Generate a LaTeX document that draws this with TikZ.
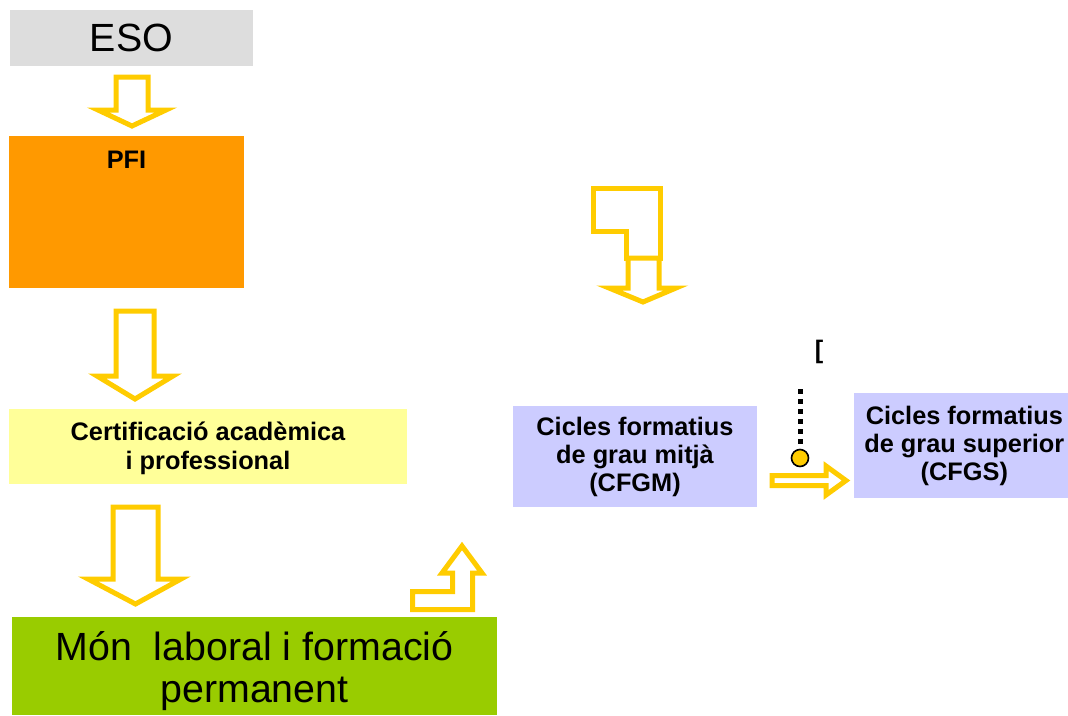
\documentclass[tikz,border=0pt]{standalone}
\usepackage{fontspec}
\setmainfont{Liberation Sans}
\definecolor{esogray}{HTML}{DDDDDD}
\definecolor{pfiorange}{HTML}{FF9900}
\definecolor{certyellow}{HTML}{FFFF99}
\definecolor{mongreen}{HTML}{99CC00}
\definecolor{cflav}{HTML}{CCCCFF}
\definecolor{arrowyellow}{HTML}{FFCC00}
\begin{document}
\begin{tikzpicture}[x=0.75pt,y=-0.75pt,
  box/.style={anchor=north west, inner sep=0pt, outer sep=0pt, align=center, text=black},
  bigtext/.style={font=\fontsize{29.5}{31.5}\selectfont},
  boldtext/.style={font=\fontsize{19}{21}\selectfont\bfseries},
  blockarrow/.style={draw=arrowyellow, line width=3.75pt, line join=miter, fill=white},
  dotline/.style={draw=black, line width=3.75pt, dash pattern=on 3.75pt off 3.75pt}]
\useasboundingbox (0,0) rectangle (1068,715);
\fill[white] (0,0) rectangle (1068,715);

% boxes
\node[box, fill=esogray, minimum width={243*0.75pt}, minimum height={56*0.75pt}, bigtext] (eso) at (10,10) {ESO};
\node[box, fill=pfiorange, minimum width={235*0.75pt}, minimum height={152*0.75pt},
  label={[anchor=north, inner sep=0pt, boldtext, yshift={-15*0.75pt}]north:PFI}] (pfi) at (9,136) {};
\node[box, fill=certyellow, minimum width={398*0.75pt}, minimum height={75*0.75pt}, boldtext,
  font=\fontsize{19}{22}\selectfont\bfseries] (cert) at (9,409) {\rule{0pt}{17pt}Certificació acadèmica\\i professional};
\node[box, fill=mongreen, minimum width={485*0.75pt}, minimum height={98*0.75pt},
  label={[anchor=center, inner sep=0pt, bigtext, align=center, yshift={-5*0.75pt}]center:Món\ \ laboral i formació\\permanent}] (mon) at (12,617) {};
\node[box, fill=cflav, minimum width={244*0.75pt}, minimum height={101*0.75pt}, boldtext] (cfgm) at (513,406) {Cicles formatius\\de grau mitjà\\(CFGM)};
\node[box, fill=cflav, minimum width={214*0.75pt}, minimum height={105*0.75pt}, boldtext] (cfgs) at (854,393) {\hspace*{5pt}Cicles formatius\\\hspace*{5pt}de grau superior\\\hspace*{5pt}(CFGS)};

% block arrows
\draw[blockarrow] (116,77) -- (148,77) -- (148,110) -- (166,110) -- (132,126) -- (98,110) -- (116,110) -- cycle;
\draw[blockarrow] (116,311) -- (154,311) -- (154,376) -- (173,376) -- (135,399) -- (97,376) -- (116,376) -- cycle;
\draw[blockarrow] (113,507) -- (158,507) -- (158,579) -- (181,579) -- (135.5,604) -- (88,579) -- (113,579) -- cycle;
\draw[blockarrow] (412.5,609.5) -- (472.5,609.5) -- (472.5,573) -- (482,573) -- (462,546) -- (442,573) -- (452.5,573) -- (452.5,591.5) -- (412.5,591.5) -- cycle;
\draw[blockarrow] (593,188) -- (660,188) -- (660,258) -- (626,258) -- (626,231) -- (593,231) -- cycle;
\draw[blockarrow] (628,258) -- (659,258) -- (659,288) -- (676,288) -- (643,302) -- (609,288) -- (628,288) -- cycle;
\draw[blockarrow] (772,475.5) -- (826,475.5) -- (826,466) -- (846,480.5) -- (826,495) -- (826,485.5) -- (772,485.5) -- cycle;

% dotted line with ball
\node[circle, draw=black, fill=arrowyellow, line width=1.2pt, minimum size={17*0.75pt}, inner sep=0pt] (ball) at (800,458) {};
\coordinate (dtop) at (800,389);
\draw[dotline] (dtop) -- (ball.north);
\node[boldtext, inner sep=0pt] (brk) at (819,352) {[};
\end{tikzpicture}
\end{document}
